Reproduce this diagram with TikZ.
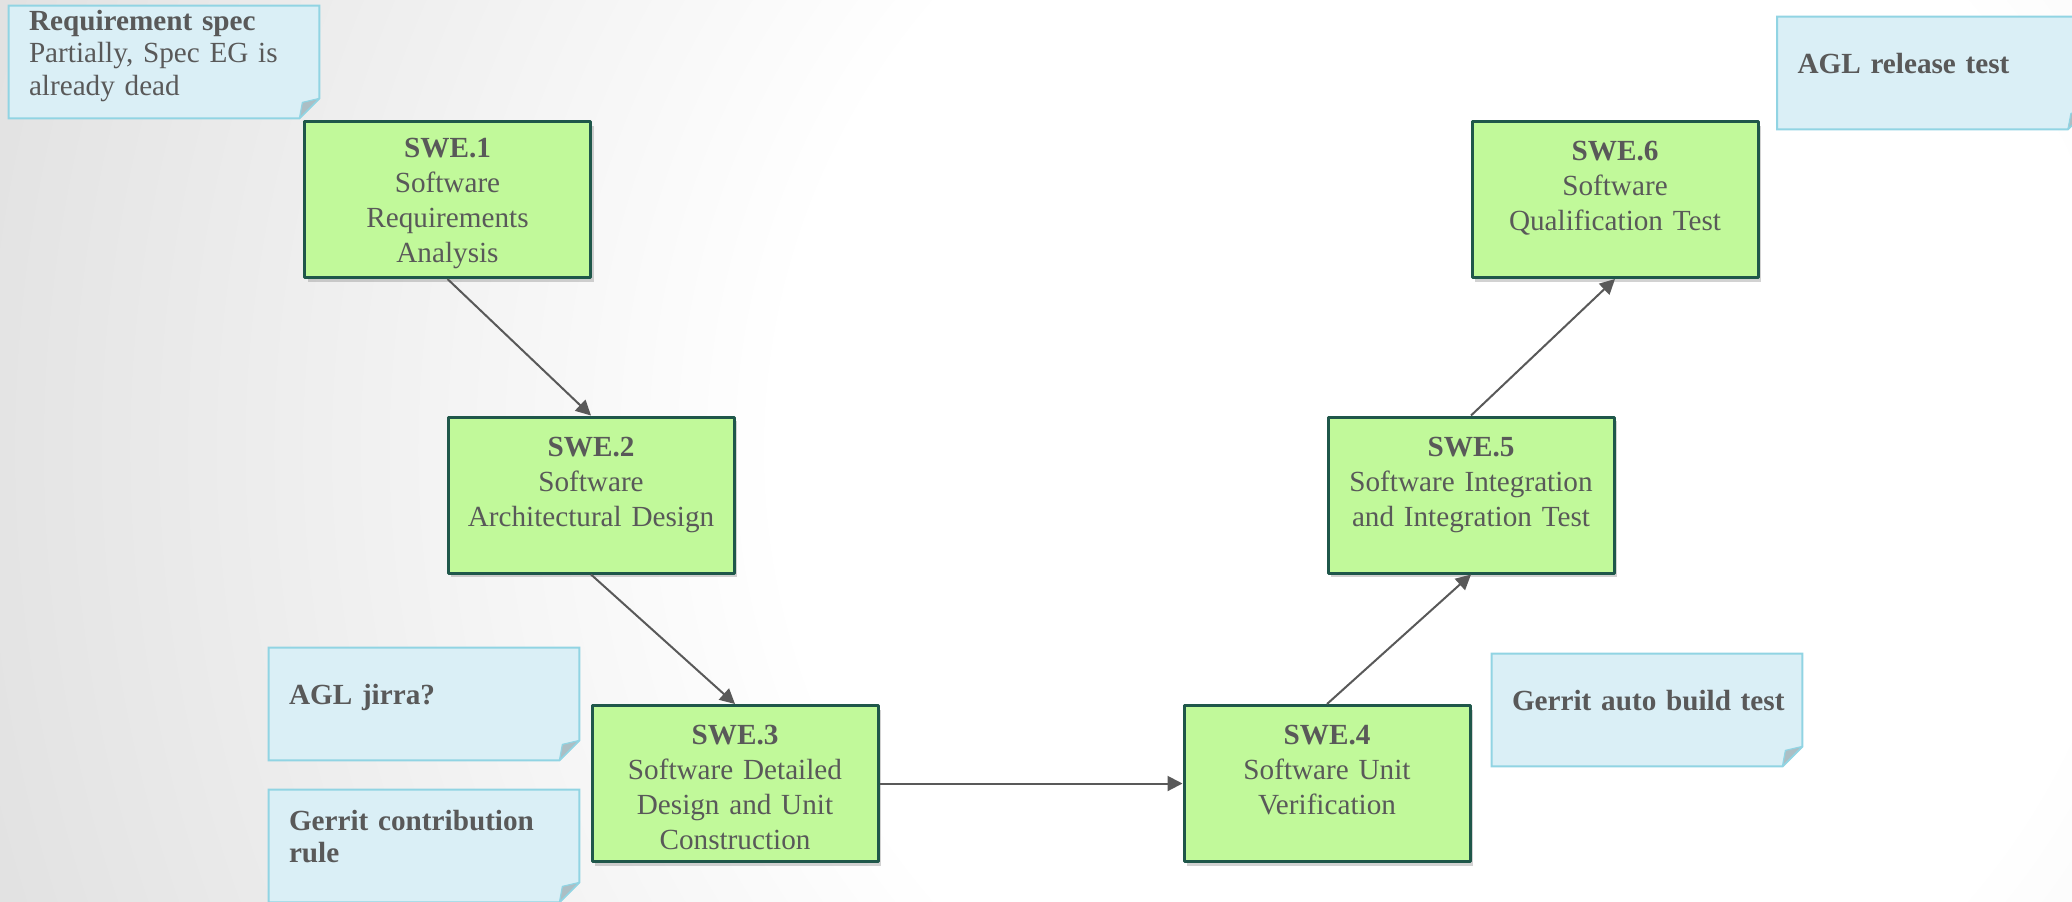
\documentclass[tikz,border=0pt]{standalone}
\usepackage{fontspec}
\setmainfont{Liberation Serif}
\usetikzlibrary{arrows.meta,shadows,backgrounds}
\definecolor{box_fill}{RGB}{193,249,154}
\definecolor{box_edge}{RGB}{31,87,74}
\definecolor{note_fill}{RGB}{218,239,246}
\definecolor{note_edge}{RGB}{145,212,227}
\definecolor{note_flap}{RGB}{172,190,196}
\definecolor{text_grey}{RGB}{89,89,89}
\definecolor{bg_grey}{RGB}{225,225,225}
\pgfdeclareradialshading{bg_shade}{\pgfpoint{0bp}{0bp}}{color(0bp)=(white); color(10.5bp)=(white); color(24bp)=(bg_grey); color(50bp)=(bg_grey)}

\tikzset{
  swebox/.style={draw=box_edge, fill=box_fill, line width=1.5pt, text=text_grey,
    minimum width=143pt, minimum height=78pt, text width=140pt, inner sep=0pt,
    align=center, font=\fontsize{14.6}{17.5}\selectfont,
    execute at begin node={\rule{0pt}{13.5pt}},
    drop shadow={shadow xshift=1.5pt, shadow yshift=-2pt, opacity=0.35}},
  note/.style={text=text_grey, minimum height=56pt, text width=135pt,
    inner xsep=10pt, inner ysep=0pt, align=left,
    font=\fontsize{14.6}{16.3}\selectfont\bfseries,
    execute at end node={\rule[-9.5pt]{0pt}{0pt}}},
  note_body/.style={fill=note_fill, draw=note_edge, line width=1pt},
  note_fold/.style={fill=note_flap, draw=note_edge, line width=0.6pt},
  flow/.style={draw=text_grey, line width=1pt, -{Triangle[length=7.5pt,width=7.5pt]}}
}

\begin{document}
\begin{tikzpicture}[x=0.5pt, y=-0.5pt, line join=round]

\useasboundingbox (0,0) rectangle (2072,901);

% background
\begin{pgfonlayer}{background}
\begin{scope}
  \clip (0,0) rectangle (2072,901);
  \shade[shading=bg_shade] (-150,-1150) rectangle (3050,2050);
\end{scope}
\end{pgfonlayer}

%-----------------------------------------------
% SWE process boxes
\node[swebox] (swe1) at (447.5,199.5) {\textbf{SWE.1}\\Software\\Requirements\\Analysis};
\node[swebox] (swe2) at (591,495) {\textbf{SWE.2}\\Software\\Architectural Design\\\mbox{}};
\node[swebox] (swe3) at (735,783.5) {\textbf{SWE.3}\\Software Detailed\\Design and Unit\\Construction};
\node[swebox] (swe4) at (1327,783.5) {\textbf{SWE.4}\\Software Unit\\Verification\\\mbox{}};
\node[swebox] (swe5) at (1471,495) {\textbf{SWE.5}\\Software Integration\\and Integration Test\\\mbox{}};
\node[swebox] (swe6) at (1615,199.5) {\textbf{SWE.6}\\Software\\Qualification Test\\\mbox{}};

%-----------------------------------------------
% arrows
\draw[flow] (swe1.south) -- (swe2.north);
\draw[flow] (swe2.south) -- (swe3.north);
\draw[flow] (swe3.east) -- (swe4.west);
\draw[flow] (swe4.north) -- (swe5.south);
\draw[flow] (swe5.north) -- (swe6.south);

%-----------------------------------------------
% notes
\node[note] (req) at (164,62) {Requirement spec\\\mdseries Partially, Spec EG is\\already dead};
\node[note] (rel) at (1932.5,73) {AGL release test};
\node[note] (jira) at (424,704) {AGL jirra?};
\node[note] (gerrit) at (424,846) {Gerrit contribution\\rule};
\node[note] (auto) at (1647,710) {\mbox{Gerrit auto build test}};

\foreach \n in {req,rel,jira,gerrit,auto}
{
  \begin{pgfonlayer}{background}
  \draw[note_body] (\n.north west) -- (\n.north east) -- ([yshift=10pt]\n.south east)
    -- ([xshift=-10pt]\n.south east) -- (\n.south west) -- cycle;
  \end{pgfonlayer}
  \draw[note_fold] ([yshift=10pt]\n.south east) -- ([xshift=-10pt]\n.south east)
    -- ([xshift=-8.5pt,yshift=8pt]\n.south east) -- cycle;
}

\end{tikzpicture}
\end{document}
